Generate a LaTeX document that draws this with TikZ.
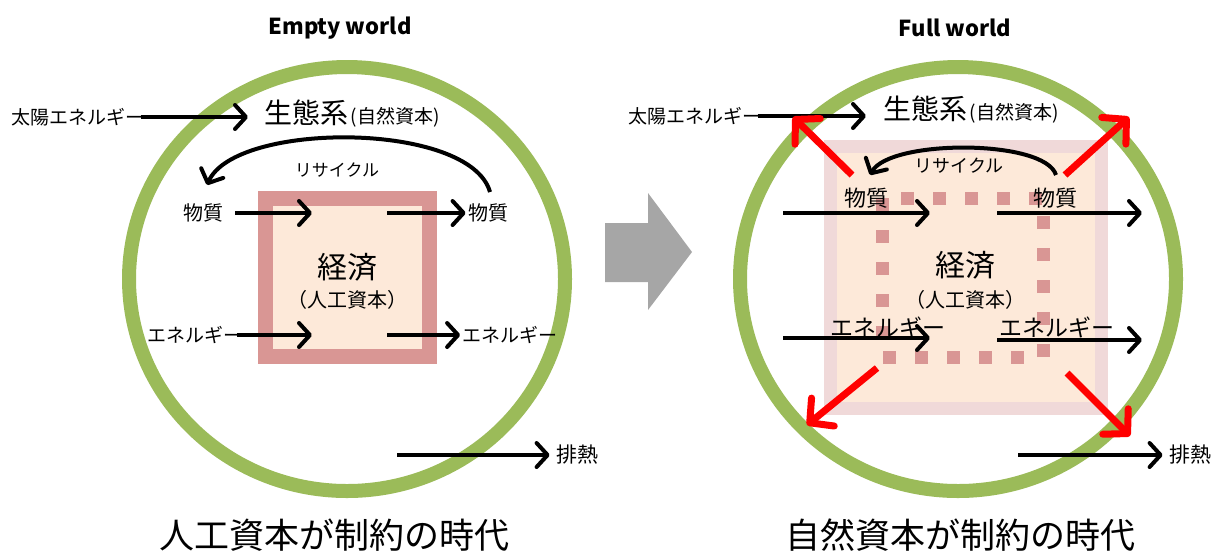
\documentclass[tikz,border=0pt]{standalone}
\usepackage{fontspec}
\setmainfont{Noto Sans CJK JP}
\usetikzlibrary{arrows.meta}
\definecolor{ecoring}{HTML}{9BBB59}
\definecolor{boxline}{HTML}{D99694}
\definecolor{boxfill}{HTML}{FDE9D9}
\definecolor{faintline}{HTML}{F0D9D9}
\definecolor{arrowgray}{HTML}{A6A6A6}
\definecolor{hotred}{HTML}{FF0000}
\begin{document}
\begin{tikzpicture}[x=0.5pt,y=-0.5pt,
  lbl/.style={inner sep=0pt, anchor=center},
  fs/.style={font=\fontsize{#1}{#1}\selectfont},
  titletxt/.style={lbl, font=\fontsize{11pt}{11pt}\selectfont\bfseries},
  bigtxt/.style={lbl, fs=14pt},
  midtxt/.style={lbl, fs=10pt},
  smalltxt/.style={lbl, fs=8.5pt},
  bottomtxt/.style={lbl, fs=17.5pt},
  ring/.style={draw=ecoring, line width=7pt},
  flow/.style={line width=2pt, -{Straight Barb[length=5.5pt,width=12pt,line cap=round,line join=round]}},
  redflow/.style={draw=hotred, line width=3.5pt, -{Straight Barb[length=8.5pt,width=18pt,line cap=round,line join=round]}},
  econbox/.style={draw=boxline, fill=boxfill, line width=7.5pt, inner sep=0pt,
     minimum width=82pt, minimum height=79pt},
  faintbox/.style={draw=faintline, fill=boxfill, line width=6.5pt, inner sep=0pt,
     minimum width=135.5pt, minimum height=131pt},
  dotsq/.style={draw=boxline, line width=6.5pt, dash pattern=on 6.5pt off 9.5pt}
]
\useasboundingbox (0,0) rectangle (1218,553);

% ================= LEFT PANEL =================
\node[titletxt] (t1) at (340,28) {Empty world};
\draw[ring] (347,279) ellipse [x radius=109pt, y radius=106pt];
\node[econbox] (econ1) at (347.5,277.5) {};

\node[midtxt, fs=9.5pt] (sun1) at (78,117) {太陽エネルギー};
\coordinate (sun1e) at (248,117);
\draw[flow] ([xshift=-2pt]sun1.east) -- (sun1e);
\node[bigtxt] (eco1) at (306,113) {生態系};
\node[lbl, fs=9.5pt, anchor=west] (nc1) at ([xshift=1pt,yshift=-2pt]eco1.east) {(自然資本)};

\coordinate (rc1a) at (490,192);
\coordinate (rc1b) at (207,185);
\draw[flow] (rc1a) .. controls (470,121) and (235,121) .. (rc1b);
\node[smalltxt] (rec1) at (337,170) {リサイクル};

\node[midtxt] (mat1) at (203,213) {物質};
\coordinate (m1in) at (312,213);
\draw[flow] ([xshift=6pt]mat1.east) -- (m1in);
\coordinate (m1out) at (387,213);
\node[midtxt] (mat1r) at (488,213) {物質};
\draw[flow] (m1out) -- ([xshift=-1pt]mat1r.west);

\node[bigtxt, fs=15pt] (ec1) at (347,267) {経済};
\node[midtxt] (hc1) at (347,300) {（人工資本）};

\node[midtxt, fs=9.5pt] (en1) at (195,335) {エネルギー};
\coordinate (e1in) at (312,335);
\draw[flow] ([xshift=-3pt]en1.east) -- (e1in);
\coordinate (e1out) at (387,335);
\node[midtxt, fs=9.5pt] (en1r) at (510,335) {エネルギー};
\draw[flow] (e1out) -- ([xshift=-1pt]en1r.west);

\coordinate (h1s) at (397,455);
\node[midtxt, fs=10.5pt] (heat1) at (577,455) {排熱};
\draw[flow] (h1s) -- ([xshift=-3pt]heat1.west);

\node[bottomtxt] (b1) at (334,535) {人工資本が制約の時代};

% ================= MIDDLE ARROW =================
\fill[arrowgray] (605,223) -- (648,223) -- (648,193) -- (692,252) -- (648,310) -- (648,282) -- (605,282) -- cycle;

% ================= RIGHT PANEL =================
\node[titletxt] (t2) at (955,28) {Full world};
\draw[ring] (958,279) ellipse [x radius=109pt, y radius=106pt];
\node[faintbox] (econ2) at (966,277.5) {};
\draw[dotsq] (882,198) rectangle (1043,357);

\node[midtxt, fs=9.5pt] (sun2) at (695,116) {太陽エネルギー};
\coordinate (sun2e) at (866,116);
\draw[flow] ([xshift=-2pt]sun2.east) -- (sun2e);
\node[bigtxt] (eco2) at (925,109) {生態系};
\node[lbl, fs=9.5pt, anchor=west] (nc2) at ([xshift=1pt,yshift=-2pt]eco2.east) {(自然資本)};

\coordinate (rc2a) at (1056,175);
\coordinate (rc2b) at (870,175);
\draw[flow] (rc2a) .. controls (1045,139) and (890,139) .. (rc2b);
\node[midtxt, fs=9pt] (rec2) at (959,166) {リサイクル};

\node[midtxt, fs=11pt] (mat2) at (866,198) {物質};
\node[midtxt, fs=11pt] (mat2r) at (1055,198) {物質};
\coordinate (m2a) at (783,213);
\coordinate (m2b) at (930,213);
\coordinate (m2c) at (997,213);
\coordinate (m2d) at (1142,213);
\draw[flow] (m2a) -- (m2b);
\draw[flow] (m2c) -- (m2d);

\node[bigtxt, fs=15pt] (ec2) at (965,265) {経済};
\node[midtxt] (hc2) at (965,300) {（人工資本）};

\node[midtxt, fs=11.5pt] (en2) at (888,327) {エネルギー};
\node[midtxt, fs=11.5pt] (en2r) at (1057,327) {エネルギー};
\coordinate (e2a) at (783,338);
\coordinate (e2b) at (930,338);
\coordinate (e2c) at (997,340);
\coordinate (e2d) at (1142,340);
\draw[flow] (e2a) -- (e2b);
\draw[flow] (e2c) -- (e2d);

\coordinate (h2s) at (1018,455);
\node[midtxt, fs=10.5pt] (heat2) at (1190,455) {排熱};
\draw[flow] (h2s) -- ([xshift=-3pt]heat2.west);

% red expansion arrows
\coordinate (rTLs) at (852,175); \coordinate (rTLe) at (793,117);
\coordinate (rTRs) at (1065,175); \coordinate (rTRe) at (1129,117);
\coordinate (rBLs) at (877,368); \coordinate (rBLe) at (807,425);
\coordinate (rBRs) at (1067,373); \coordinate (rBRe) at (1130,436);
\draw[redflow] (rTLs) -- (rTLe);
\draw[redflow] (rTRs) -- (rTRe);
\draw[redflow] (rBLs) -- (rBLe);
\draw[redflow] (rBRs) -- (rBRe);

\node[bottomtxt] (b2) at (960,535) {自然資本が制約の時代};
\end{tikzpicture}
\end{document}
